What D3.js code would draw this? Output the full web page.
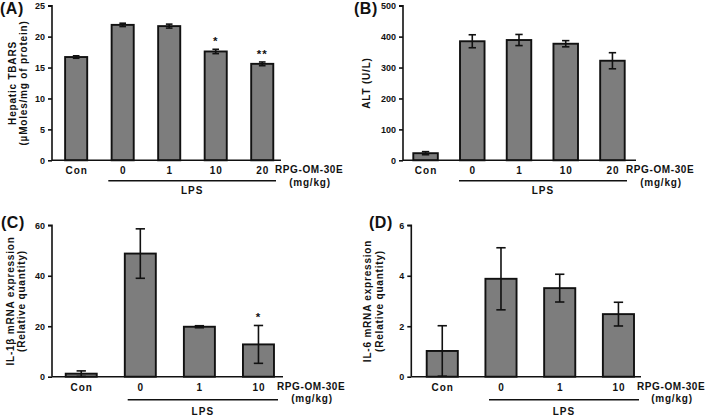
<!DOCTYPE html>
<html>
<head>
<meta charset="utf-8">
<script src="https://cdn.jsdelivr.net/npm/d3@7"></script>
<style>
  html, body { margin: 0; padding: 0; background: #ffffff; }
  svg { display: block; }
  text { font-family: "Liberation Sans", Arial, sans-serif; font-weight: bold; fill: #111; }
</style>
</head>
<body>
<svg id="chart" width="708" height="416"></svg>
<script>
// ---------- data ----------
const groupsFive = ["Con", "0", "1", "10", "20"];
const groupsFour = ["Con", "0", "1", "10"];

const tbarsMean = [16.7, 21.9, 21.7, 17.6, 15.6];
const tbarsErr  = [0.2, 0.27, 0.32, 0.35, 0.3];
const tbarsSig  = ["", "", "", "*", "**"];
const tbarsTicks = [0, 5, 10, 15, 20, 25];

const altMean = [23, 385, 389, 377, 322];
const altErr  = [5, 21, 18, 10, 26];
const altSig  = ["", "", "", "", ""];
const altTicks = [0, 100, 200, 300, 400, 500];

const il1bMean = [1.2, 48.8, 19.8, 12.8];
const il1bErr  = [1.1, 9.8, 0.4, 7.5];
const il1bSig  = ["", "", "", "*"];
const il1bTicks = [0, 20, 40, 60];

const il6Mean = [1.02, 3.88, 3.51, 2.48];
const il6Err  = [1.0, 1.23, 0.55, 0.47];
const il6Sig  = ["", "", "", ""];
const il6Ticks = [0, 2, 4, 6];

const treatmentLabel = "RPG-OM-30E";
const unitLabel = "(mg/kg)";
const lpsLabel = "LPS";

// ---------- layout ----------
const panels = [
  { tag: "(A)", tagX: 0, tagY: 14, cats: groupsFive, mean: tbarsMean, err: tbarsErr, sig: tbarsSig, ticks: tbarsTicks,
    titles: ["Hepatic TBARS", "(\u00B5Moles/mg of protein)"], titleX: [15.5, 26.5],
    axisX: 52, axisEnd: 281, band: [52.9, 285.5], pad: 0.525, yTop: 5.7, yBot: 160.3,
    lpsFrom: 108.3, lpsTo: 276, lpsDy: 20.5, lpsTextDy: 34, rpgX: 275 },
  { tag: "(B)", tagX: 354, tagY: 14, cats: groupsFive, mean: altMean, err: altErr, sig: altSig, ticks: altTicks,
    titles: ["ALT (U/L)"], titleX: [369.5],
    axisX: 403, axisEnd: 636, band: [402.2, 635.8], pad: 0.475, yTop: 5.7, yBot: 160.3,
    lpsFrom: 459, lpsTo: 627, lpsDy: 20.5, lpsTextDy: 34, rpgX: 626 },
  { tag: "(C)", tagX: 1, tagY: 228, cats: groupsFour, mean: il1bMean, err: il1bErr, sig: il1bSig, ticks: il1bTicks,
    titles: ["IL-1\u03B2 mRNA expression", "(Relative quantity)"], titleX: [13.5, 25.2],
    axisX: 52, axisEnd: 283, band: [51.7, 288], pad: 0.475, yTop: 225.3, yBot: 376.7,
    lpsFrom: 127.7, lpsTo: 278, lpsDy: 23, lpsTextDy: 38, rpgX: 277 },
  { tag: "(D)", tagX: 369, tagY: 228, cats: groupsFour, mean: il6Mean, err: il6Err, sig: il6Sig, ticks: il6Ticks,
    titles: ["IL-6 mRNA expression", "(Relative quantity)"], titleX: [370.8, 382.5],
    axisX: 411.3, axisEnd: 641, band: [412.9, 647.8], pad: 0.47, yTop: 225.3, yBot: 376.7,
    lpsFrom: 489, lpsTo: 639, lpsDy: 23, lpsTextDy: 38, rpgX: 637 }
];

const svg = d3.select("#chart");

panels.forEach(p => {
  const g = svg.append("g");
  const yMax = p.ticks[p.ticks.length - 1];
  const y = d3.scaleLinear().domain([0, yMax]).range([p.yBot, p.yTop]);
  const x = d3.scaleBand().domain(p.cats).range(p.band).paddingInner(p.pad).paddingOuter(p.pad / 2);
  const bw = x.bandwidth();

  // bars
  g.selectAll("rect.bar").data(p.cats).join("rect")
    .attr("class", "bar")
    .attr("x", d => x(d))
    .attr("width", bw)
    .attr("y", (d, i) => y(p.mean[i]))
    .attr("height", (d, i) => y(0) - y(p.mean[i]))
    .attr("fill", "#7d7d7d")
    .attr("stroke", "#111")
    .attr("stroke-width", 1.9);

  // error bars
  const cap = bw * 0.3;
  p.cats.forEach((c, i) => {
    const cx = x(c) + bw / 2;
    const hi = p.mean[i] + p.err[i];
    const lo = Math.max(0, p.mean[i] - p.err[i]);
    g.append("line").attr("x1", cx).attr("x2", cx).attr("y1", y(hi)).attr("y2", y(lo))
      .attr("stroke", "#111").attr("stroke-width", 1.6);
    g.append("line").attr("x1", cx - cap / 2).attr("x2", cx + cap / 2).attr("y1", y(hi)).attr("y2", y(hi))
      .attr("stroke", "#111").attr("stroke-width", 1.6);
    if (lo > 0) {
      g.append("line").attr("x1", cx - cap / 2).attr("x2", cx + cap / 2).attr("y1", y(lo)).attr("y2", y(lo))
        .attr("stroke", "#111").attr("stroke-width", 1.6);
    }
    if (p.sig[i]) {
      g.append("text").attr("x", cx).attr("y", y(hi) - 4).attr("text-anchor", "middle")
        .style("font-size", "11.5px").style("letter-spacing", "1px").text(p.sig[i]);
    }
  });

  // y axis
  const yAxis = d3.axisLeft(y).tickValues(p.ticks).tickSize(4).tickPadding(3).tickFormat(d3.format("d"));
  const ya = g.append("g").attr("transform", `translate(${p.axisX},0)`).call(yAxis);
  ya.select(".domain").attr("stroke", "#111").attr("stroke-width", 1.6).attr("d", `M-4,${p.yTop}H0V${p.yBot}`);
  ya.selectAll(".tick line").attr("stroke", "#111").attr("stroke-width", 1.6);
  ya.selectAll(".tick text").style("font-size", "9px").style("font-family", "Liberation Sans, Arial, sans-serif")
    .style("font-weight", "bold").attr("fill", "#111");

  // x axis line
  g.append("line").attr("x1", p.axisX).attr("x2", p.axisEnd).attr("y1", p.yBot).attr("y2", p.yBot)
    .attr("stroke", "#111").attr("stroke-width", 1.6);

  // x category labels
  g.selectAll("text.cat").data(p.cats).join("text")
    .attr("class", "cat")
    .attr("x", d => x(d) + bw / 2 + 0.5)
    .attr("y", p.yBot + 14)
    .attr("text-anchor", "middle")
    .style("font-size", "10px").style("letter-spacing", "1px")
    .text(d => d);

  // treatment label
  g.append("text").attr("x", p.rpgX).attr("y", p.yBot + 13).style("font-size", "10px").style("letter-spacing", "0.6px")
    .text(treatmentLabel);
  g.append("text").attr("x", p.rpgX + 35).attr("y", p.yBot + 25.5).attr("text-anchor", "middle")
    .style("font-size", "10px").style("letter-spacing", "0.8px").text(unitLabel);

  // LPS bracket
  g.append("line").attr("x1", p.lpsFrom).attr("x2", p.lpsTo).attr("y1", p.yBot + p.lpsDy).attr("y2", p.yBot + p.lpsDy)
    .attr("stroke", "#111").attr("stroke-width", 1.6);
  g.append("text").attr("x", (p.lpsFrom + p.lpsTo) / 2).attr("y", p.yBot + p.lpsTextDy).attr("text-anchor", "middle")
    .style("font-size", "10px").style("letter-spacing", "1px").text(lpsLabel);

  // y titles
  const cy = (p.yTop + p.yBot) / 2;
  p.titles.forEach((t, k) => {
    g.append("text").attr("transform", `translate(${p.titleX[k]},${cy}) rotate(-90)`)
      .attr("text-anchor", "middle").style("font-size", "10px").style("letter-spacing", "0.8px").text(t);
  });

  // panel tag
  g.append("text").attr("x", p.tagX).attr("y", p.tagY).style("font-size", "16px").style("letter-spacing", "0.5px").text(p.tag);
});
</script>
</body>
</html>
